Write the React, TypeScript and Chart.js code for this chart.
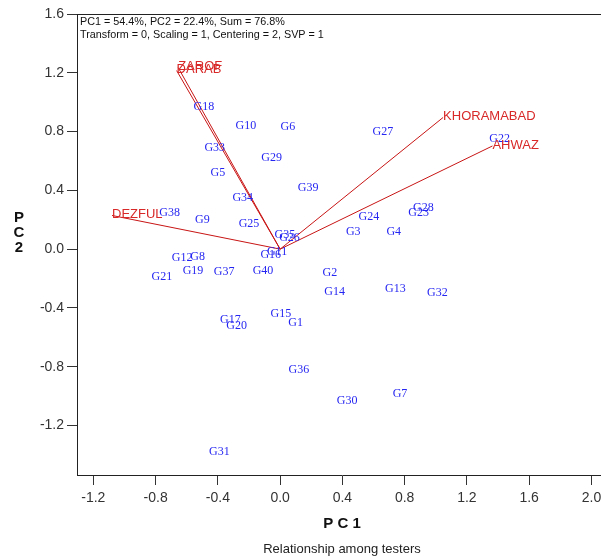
import React, { useEffect, useRef } from "react";
import { Chart, registerables } from "chart.js";

Chart.register(...registerables);

// ---- Data ----
const genotypeNames = [
  "G1", "G2", "G3", "G4", "G5", "G6", "G7", "G8", "G9", "G10",
  "G11", "G12", "G13", "G14", "G15", "G16", "G17", "G18", "G19", "G20",
  "G21", "G22", "G23", "G24", "G25", "G26", "G27", "G28", "G29", "G30",
  "G31", "G32", "G33", "G34", "G35", "G36", "G37", "G38", "G39", "G40",
];
const genotypePC1 = [
  0.10, 0.32, 0.47, 0.73, -0.40, 0.05, 0.77, -0.53, -0.50, -0.22,
  -0.02, -0.63, 0.74, 0.35, 0.005, -0.06, -0.32, -0.49, -0.56, -0.28,
  -0.76, 1.41, 0.89, 0.57, -0.20, 0.06, 0.66, 0.92, -0.055, 0.43,
  -0.39, 1.01, -0.42, -0.24, 0.03, 0.12, -0.36, -0.71, 0.18, -0.11,
];
const genotypePC2 = [
  -0.50, -0.16, 0.12, 0.115, 0.52, 0.83, -0.985, -0.053, 0.20, 0.84,
  -0.018, -0.06, -0.27, -0.29, -0.44, -0.042, -0.48, 0.97, -0.146, -0.52,
  -0.19, 0.75, 0.25, 0.22, 0.17, 0.077, 0.80, 0.28, 0.62, -1.03,
  -1.38, -0.30, 0.69, 0.35, 0.095, -0.82, -0.155, 0.25, 0.42, -0.146,
];

const testerNames = ["ZAROF", "DARAB", "KHORAMABAD", "AHWAZ", "DEZFUL"];
const testerPC1 = [-0.655, -0.665, 1.047, 1.364, -1.08];
const testerPC2 = [1.235, 1.215, 0.896, 0.702, 0.229];

const infoLines = [
  "PC1 = 54.4%, PC2 = 22.4%, Sum = 76.8%",
  "Transform = 0, Scaling = 1, Centering = 2, SVP = 1",
];
const xAxisTitle = "P C 1";
const yAxisTitleLetters = ["P", "C", "2"];
const subtitle = "Relationship among testers";

const xRange = [-1.305, 2.1];
const yRange = [-1.537, 1.6];
const tickStep = 0.4;

const SANS = "'Liberation Sans', Arial, sans-serif";
const SERIF = "'Liberation Serif', 'Times New Roman', serif";

const biplotText = {
  id: "biplotText",
  afterDatasetsDraw(chart: any) {
    const { ctx, chartArea } = chart;
    ctx.save();
    // top frame line
    ctx.strokeStyle = "#222";
    ctx.lineWidth = 1;
    ctx.beginPath();
    ctx.moveTo(chartArea.left, Math.round(chartArea.top) + 0.5);
    ctx.lineTo(chartArea.right, Math.round(chartArea.top) + 0.5);
    ctx.stroke();

    // info text
    ctx.fillStyle = "#111";
    ctx.font = `10.8px ${SANS}`;
    ctx.textAlign = "left";
    ctx.textBaseline = "middle";
    infoLines.forEach((t, i) => {
      ctx.fillText(t, chartArea.left + 3, chartArea.top + 8.5 + i * 12.5);
    });

    // genotype labels
    const gIdx = testerNames.length;
    const gMeta = chart.getDatasetMeta(gIdx);
    ctx.font = `12px ${SERIF}`;
    ctx.fillStyle = "#2626f2";
    ctx.textAlign = "center";
    ctx.textBaseline = "middle";
    gMeta.data.forEach((el: any, i: number) => {
      ctx.fillText(genotypeNames[i], el.x, el.y);
    });

    // tester labels
    ctx.font = `13px ${SANS}`;
    ctx.fillStyle = "#d82828";
    ctx.textAlign = "left";
    testerNames.forEach((name, i) => {
      const m = chart.getDatasetMeta(i);
      const el = m.data[1];
      ctx.fillText(name, el.x, el.y - 1);
    });

    // axis titles
    ctx.fillStyle = "#111";
    ctx.font = `bold 15px ${SANS}`;
    ctx.textAlign = "center";
    ctx.fillText(xAxisTitle, 342, 524);
    yAxisTitleLetters.forEach((l, i) => {
      ctx.fillText(l, 19, 218 + i * 15);
    });
    ctx.font = `13px ${SANS}`;
    ctx.fillStyle = "#222";
    ctx.fillText(subtitle, 342, 549);
    ctx.restore();
  },
};

export default function App() {
  const ref = useRef<HTMLCanvasElement | null>(null);

  useEffect(() => {
    if (!ref.current) return;
    const testerSets = testerNames.map((name, i) => ({
      type: "line" as const,
      label: name,
      data: [
        { x: 0, y: 0 },
        { x: testerPC1[i], y: testerPC2[i] },
      ],
      borderColor: "#c81414",
      borderWidth: 1,
      pointRadius: 0,
      showLine: true,
      fill: false,
    }));
    const genoSet = {
      type: "scatter" as const,
      label: "Genotypes",
      data: genotypeNames.map((_, i) => ({ x: genotypePC1[i], y: genotypePC2[i] })),
      pointRadius: 0,
      showLine: false,
    };

    const chart = new Chart(ref.current, {
      type: "scatter",
      data: { datasets: [...testerSets, genoSet] as any },
      plugins: [biplotText],
      options: {
        responsive: false,
        maintainAspectRatio: false,
        devicePixelRatio: 1,
        animation: false,
        layout: { padding: { top: 14, left: 0, right: 13, bottom: 0 } },
        plugins: {
          legend: { display: false },
          tooltip: { enabled: false },
          title: { display: false },
        },
        scales: {
          x: {
            type: "linear",
            min: xRange[0],
            max: xRange[1],
            afterFit: (s: any) => {
              s.height = 84;
            },
            ticks: {
              stepSize: tickStep,
              includeBounds: false,
              maxRotation: 0,
              autoSkip: false,
              padding: 5,
              color: "#333",
              font: { family: SANS, size: 14 },
              callback: (v: any) => Number(v).toFixed(1),
            },
            grid: {
              display: true,
              drawOnChartArea: false,
              drawTicks: true,
              tickLength: 10,
              color: "#333",
            },
            border: { display: true, color: "#222", width: 1 },
          },
          y: {
            type: "linear",
            min: yRange[0],
            max: yRange[1],
            afterFit: (s: any) => {
              s.width = 77;
            },
            ticks: {
              stepSize: tickStep,
              includeBounds: false,
              autoSkip: false,
              padding: 3,
              color: "#333",
              font: { family: SANS, size: 14 },
              callback: (v: any) => Number(v).toFixed(1),
            },
            grid: {
              display: true,
              drawOnChartArea: false,
              drawTicks: true,
              tickLength: 10,
              color: "#333",
            },
            border: { display: true, color: "#222", width: 1 },
          },
        },
      } as any,
    });
    return () => chart.destroy();
  }, []);

  return (
    <div
      style={{
        position: "fixed",
        left: 0,
        top: 0,
        width: 601,
        height: 559,
        background: "#fff",
        overflow: "hidden",
      }}
    >
      <canvas ref={ref} width={620} height={559} style={{ display: "block" }} />
    </div>
  );
}
